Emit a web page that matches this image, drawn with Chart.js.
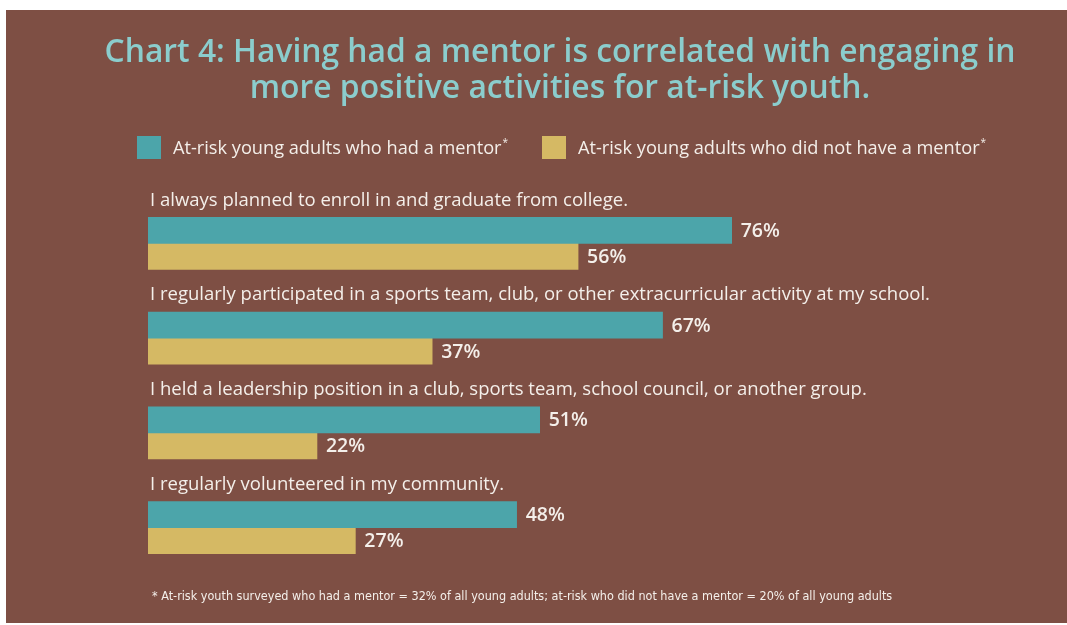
<!DOCTYPE html>
<html>
<head>
<meta charset="utf-8">
<script src="https://cdn.jsdelivr.net/npm/chart.js@4.4.1/dist/chart.umd.min.js"></script>
<style>
  html, body { margin: 0; padding: 0; background: #ffffff; }
  #wrap { width: 1067px; height: 625px; position: relative; }
</style>
</head>
<body>
<div id="wrap"><canvas id="mentorChart"></canvas></div>
<script>
// survey statements, one per bar group
const statements = [
    'I always planned to enroll in and graduate from college.',
    'I regularly participated in a sports team, club, or other extracurricular activity at my school.',
    'I held a leadership position in a club, sports team, school council, or another group.',
    'I regularly volunteered in my community.'
];
const hadMentor = [76, 67, 51, 48];
const noMentor = [56, 37, 22, 27];
const seriesNames = [
    'At-risk young adults who had a mentor',
    'At-risk young adults who did not have a mentor'
];
const titleLines = [
    'Chart 4: Having had a mentor is correlated with engaging in',
    'more positive activities for at-risk youth.'
];
const footnote = '* At-risk youth surveyed who had a mentor = 32% of all young adults; at-risk who did not have a mentor = 20% of all young adults';

const BROWN = '#7e4f44';
const TEAL = '#4ca5aa';
const GOLD = '#d5b964';
const TITLE_TEAL = '#8bcdcd';
const TEXT = '#f4efea';
const SANS = '"Open Sans", "DejaVu Sans", sans-serif';

// background panel, headings, legend, statement labels, value labels, note
const decorations = {
    id: 'decorations',
    beforeDraw(chart) {
        const ctx = chart.ctx;
        ctx.save();
        ctx.fillStyle = BROWN;
        ctx.fillRect(6, 10, 1061, 613);
        ctx.restore();
    },
    afterDatasetsDraw(chart) {
        const ctx = chart.ctx;
        ctx.save();

        // title
        ctx.fillStyle = TITLE_TEAL;
        ctx.textAlign = 'center';
        ctx.textBaseline = 'middle';
        ctx.font = '600 31.8px ' + SANS;
        ctx.fillText(titleLines[0], 560, 53);
        ctx.fillText(titleLines[1], 560, 89);

        // legend
        const legendX = [137, 542];
        const colors = [TEAL, GOLD];
        ctx.textAlign = 'left';
        seriesNames.forEach((name, i) => {
            ctx.fillStyle = colors[i];
            ctx.fillRect(legendX[i], 136, 24, 23);
            ctx.fillStyle = TEXT;
            ctx.font = '18.2px ' + SANS;
            ctx.fillText(name, legendX[i] + 36, 149);
            const w = ctx.measureText(name).width;
            ctx.font = '10px ' + SANS;
            ctx.fillText('*', legendX[i] + 37 + w, 143);
        });

        // statement above each group
        const yScale = chart.scales.y;
        ctx.font = '18.5px ' + SANS;
        ctx.fillStyle = TEXT;
        statements.forEach((s, i) => {
            const cy = yScale.getPixelForValue(i);
            ctx.fillText(s, 150, cy - 43);
        });

        // percentage at the end of each bar
        ctx.font = '600 19.5px ' + SANS;
        chart.data.datasets.forEach((ds, di) => {
            chart.getDatasetMeta(di).data.forEach((bar, i) => {
                ctx.fillText(ds.data[i] + '%', bar.x + 9, bar.y + 1);
            });
        });

        // footnote
        ctx.font = '12.5px "Liberation Sans Narrow", "DejaVu Sans Condensed", sans-serif';
        ctx.fillText(footnote, 152, 597);

        ctx.restore();
    }
};

new Chart(document.getElementById('mentorChart'), {
    type: 'bar',
    data: {
        labels: statements,
        datasets: [
            { label: seriesNames[0], data: hadMentor, backgroundColor: TEAL },
            { label: seriesNames[1], data: noMentor, backgroundColor: GOLD }
        ]
    },
    options: {
        indexAxis: 'y',
        responsive: true,
        maintainAspectRatio: false,
        animation: false,
        events: [],
        layout: { padding: { left: 148, right: 151, top: 196, bottom: 50 } },
        datasets: { bar: { barThickness: 26, borderWidth: 0 } },
        scales: {
            x: { display: false, min: 0, max: 100 },
            y: { display: false }
        },
        plugins: {
            legend: { display: false },
            title: { display: false },
            tooltip: { enabled: false }
        }
    },
    plugins: [decorations]
});
</script>
</body>
</html>
